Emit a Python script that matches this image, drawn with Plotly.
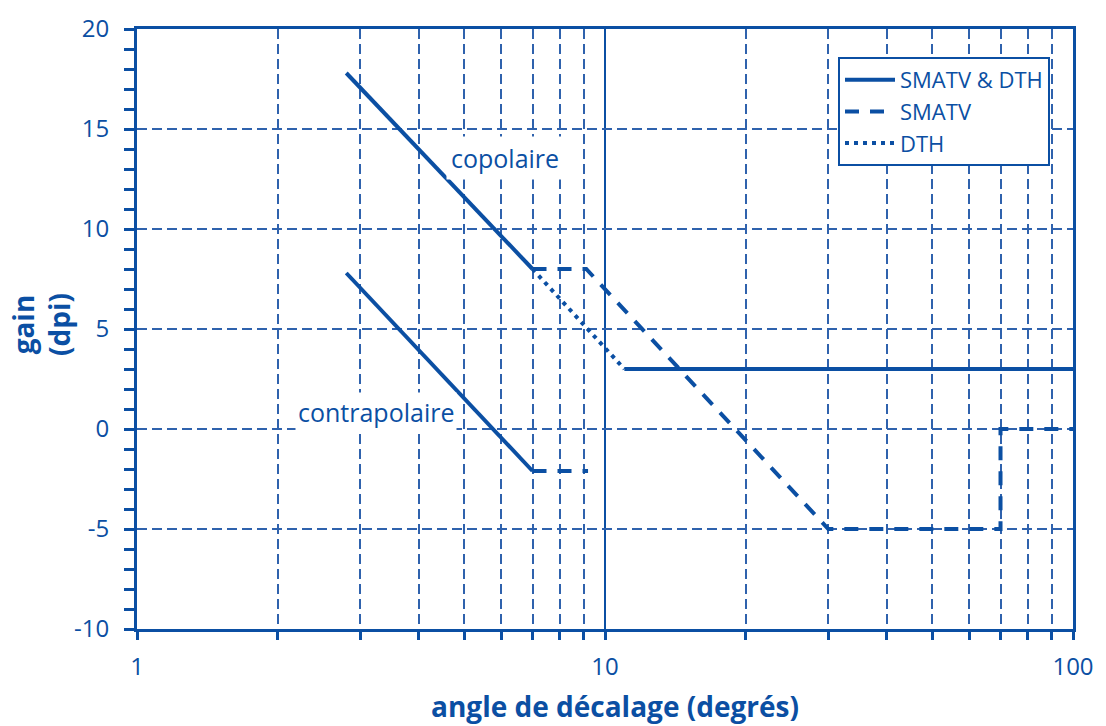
import plotly.graph_objects as go

BLUE = "#0b4fa3"
GRID = "#2f62ad"

# Data
co_solid_x = [2.8, 7]
co_solid_y = [17.8, 8]
contra_solid_x = [2.8, 7]
contra_solid_y = [7.8, -2.1]
contra_dash_x = [7, 9.2]
contra_dash_y = [-2.1, -2.1]
smatv_x = [7, 9.12, 30, 70, 70, 100]
smatv_y = [8, 8, -5, -5, 0, 0]
dth_x = [7, 11]
dth_y = [8, 3]
both_x = [11, 100]
both_y = [3, 3]

xmajor = [1, 10, 100]
xmajor_text = ["1", "10", "100"]
xminor = [2, 3, 4, 5, 6, 7, 8, 9, 20, 30, 40, 50, 60, 70, 80, 90]
ymajor = [-10, -5, 0, 5, 10, 15, 20]
ymajor_text = ["-10", "-5", "0", "5", "10", "15", "20"]
yminor = list(range(-10, 21))

FONT = "Open Sans"
W, H = 1106, 726
L, T, R, B = 137, 29, 33, 97

fig = go.Figure()

fig.add_trace(go.Scatter(x=both_x, y=both_y, mode="lines", name="SMATV & DTH",
                         line=dict(color=BLUE, width=4)))
fig.add_trace(go.Scatter(x=smatv_x, y=smatv_y, mode="lines", name="SMATV",
                         line=dict(color=BLUE, width=4, dash="14px,11px")))
fig.add_trace(go.Scatter(x=dth_x, y=dth_y, mode="lines", name="DTH",
                         line=dict(color=BLUE, width=4, dash="4px,5px")))
fig.add_trace(go.Scatter(x=co_solid_x, y=co_solid_y, mode="lines", showlegend=False,
                         line=dict(color=BLUE, width=4)))
fig.add_trace(go.Scatter(x=contra_solid_x, y=contra_solid_y, mode="lines", showlegend=False,
                         line=dict(color=BLUE, width=4)))
fig.add_trace(go.Scatter(x=contra_dash_x, y=contra_dash_y, mode="lines", showlegend=False,
                         line=dict(color=BLUE, width=4, dash="14px,11px")))

fig.update_layout(
    width=W, height=H,
    margin=dict(l=L, r=R, t=T, b=B),
    paper_bgcolor="white", plot_bgcolor="white",
    font=dict(family=FONT, color=BLUE, size=24),
    legend=dict(x=(838 - 137) / 936, y=1 - (57 - 29) / 600, xanchor="left", yanchor="top",
                bordercolor=BLUE, borderwidth=2, bgcolor="white",
                font=dict(size=22, color=BLUE), itemwidth=50,
                tracegroupgap=0),
    xaxis=dict(type="log", range=[0, 2], tickmode="array", tickvals=xmajor, ticktext=xmajor_text,
               ticks="outside", ticklen=8, tickwidth=3, tickcolor=BLUE, ticklabelstandoff=6,
               showline=True, linecolor=BLUE, linewidth=3, mirror=True,
               showgrid=True, gridcolor=BLUE, gridwidth=1.5,
               minor=dict(tickmode="array", tickvals=xminor, ticks="outside", ticklen=8,
                          tickwidth=3, tickcolor=BLUE, showgrid=True, gridcolor=GRID,
                          gridwidth=1.5, griddash="10px,5px"),
               tickfont=dict(size=24, color=BLUE), zeroline=False, automargin=False),
    yaxis=dict(range=[-10, 20], tickmode="array", tickvals=ymajor, ticktext=ymajor_text,
               ticks="outside", ticklen=10, tickwidth=3, tickcolor=BLUE, ticklabelstandoff=10,
               showline=True, linecolor=BLUE, linewidth=3, mirror=True,
               showgrid=True, gridcolor=GRID, gridwidth=1.5, griddash="10px,5px",
               minor=dict(tickmode="array", tickvals=yminor, ticks="outside", ticklen=10,
                          tickwidth=3, tickcolor=BLUE, showgrid=False),
               tickfont=dict(size=24, color=BLUE), zeroline=False, automargin=False),
)

fig.add_annotation(text="copolaire", x=0.786, y=13.55, xref="x", yref="y",
                   showarrow=False, font=dict(size=25, color=BLUE), bgcolor="white",
                   borderpad=4)
fig.add_annotation(text="contrapolaire", x=0.511, y=0.85, xref="x", yref="y",
                   showarrow=False, font=dict(size=25, color=BLUE), bgcolor="white",
                   borderpad=2)
fig.add_annotation(text="<b>angle de décalage (degrés)</b>", x=(615 - 137) / 936,
                   y=-(706 - 629) / 600,
                   xref="paper", yref="paper", yanchor="middle", xanchor="center",
                   showarrow=False, font=dict(size=28, color=BLUE), borderpad=0)
fig.add_annotation(text="<b>gain<br>(dpi)</b>", x=(41 - 137) / 936, y=1 - (325 - 29) / 600,
                   xref="paper", yref="paper", textangle=-90, showarrow=False,
                   xanchor="center", yanchor="middle",
                   font=dict(size=28, color=BLUE))

fig.write_html("out.html", config={"displayModeBar": False},
               post_script="document.body.style.margin='0';")
